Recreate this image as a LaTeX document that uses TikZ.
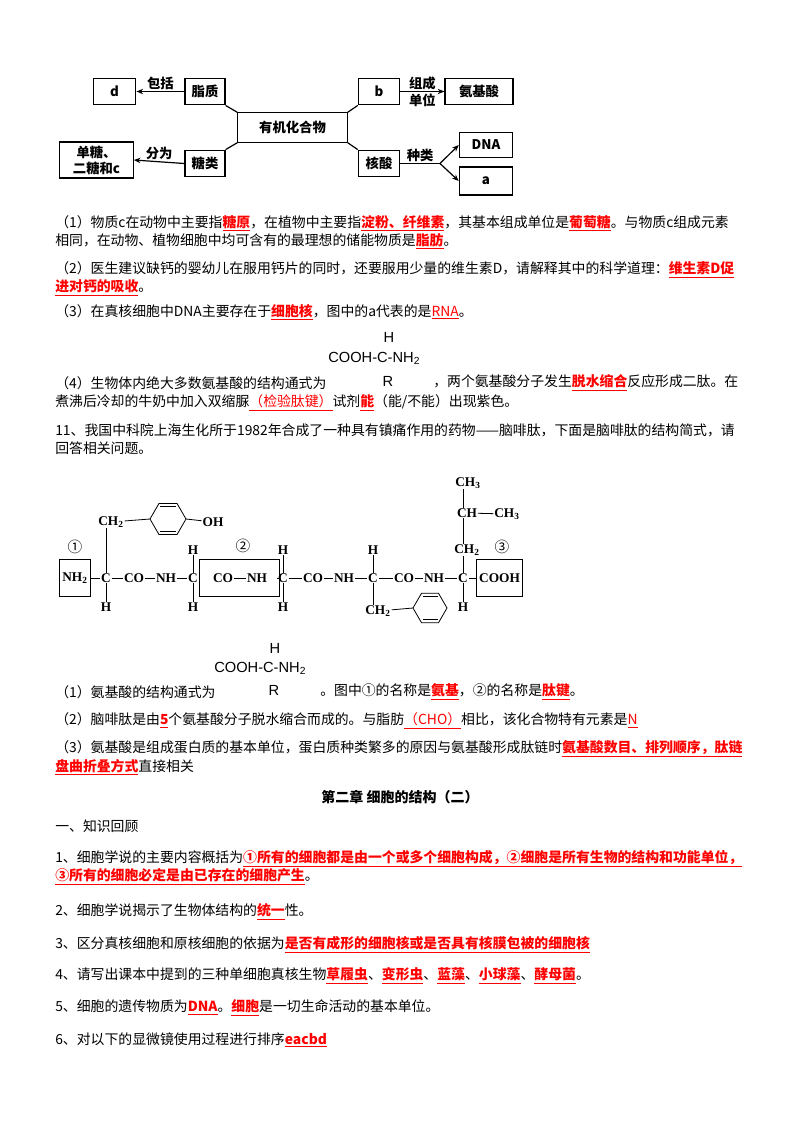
\documentclass[tikz,border=0pt]{standalone}
\usepackage{fontspec}
\setmainfont{Noto Sans CJK SC}
\newfontfamily\chemf{Liberation Serif}
\newfontfamily\formf{Liberation Sans}
\usetikzlibrary{arrows.meta}
\newcommand\ans[1]{{\color{red}\bfseries\underline{#1}}}
\newcommand\ansn[1]{{\color{red}\underline{#1}}}
\begin{document}
\begin{tikzpicture}[x=0.75pt,y=-0.75pt,
  tl/.style={anchor=west,inner sep=0pt,font=\fontsize{10.4pt}{13pt}\selectfont},
  bx/.style={draw,line width=0.9pt,inner sep=0pt,font=\fontsize{10pt}{12pt}\selectfont\bfseries,align=center},
  cn/.style={line width=0.9pt},
  ar/.style={line width=0.9pt,-{Stealth[length=5pt,width=4pt]}},
  lb/.style={inner sep=1pt,font=\fontsize{10pt}{12pt}\selectfont\bfseries},
  ch/.style={inner sep=0.5pt,font=\chemf\fontsize{10pt}{12pt}\selectfont\bfseries},
  cb/.style={draw,line width=0.7pt,minimum height=28pt,inner sep=2pt},
  bd/.style={line width=0.6pt},
  fm/.style={inner sep=0pt,font=\formf\fontsize{11pt}{13pt}\selectfont},
  circnum/.style={inner sep=0.5pt,font=\fontsize{11pt}{12pt}\selectfont},
]
\useasboundingbox (0,0) rectangle (800,1133);
\fill[white] (0,0) rectangle (800,1133);
% ---- top diagram
\node[bx,minimum width=32pt,minimum height=20pt] (d) at (114.5,91.5) {d};
\node[bx,minimum width=30pt,minimum height=20pt] (zz) at (205,91.5) {脂质};
\node[bx,minimum width=31pt,minimum height=20pt] (b) at (379,91.5) {b};
\node[bx,minimum width=51pt,minimum height=20pt] (aa) at (479,91.5) {氨基酸};
\node[bx,minimum width=82pt,minimum height=22pt] (org) at (292.5,127.5) {有机化合物};
\node[bx,minimum width=55pt,minimum height=27pt] (dt) at (96.5,160) {单糖、\\二糖和c};
\node[bx,minimum width=30pt,minimum height=20pt] (tl) at (205,163.5) {糖类};
\node[bx,minimum width=31pt,minimum height=20pt] (hs) at (379,163.5) {核酸};
\node[bx,minimum width=40pt,minimum height=19pt] (dna) at (486,145) {DNA};
\node[bx,minimum width=40pt,minimum height=21pt] (a) at (486,181) {a};
\draw[cn] (zz.south east) -- (org.north west);
\draw[cn] (tl.north east) -- (org.south west);
\draw[cn] (b.south west) -- (org.north east);
\draw[cn] (hs.north west) -- (org.south east);
\draw[ar] (zz.west) -- node[lb,above]{包括} (d.east);
\draw[ar] (tl.west) -- node[lb,above]{分为} (dt.east);
\draw[ar] (b.east) -- node[lb,above]{组成} node[lb,below]{单位} (aa.west);
\coordinate (br) at (440,163.5);
\draw[cn] (hs.east) -- node[lb,above]{种类} (br);
\draw[ar] (br) -- (dna.west);
\draw[ar] (br) -- (a.west);
% ---- text block 1
\node[tl] (t1) at (55,223) {（1）物质c在动物中主要指\ans{糖原}，在植物中主要指\ans{淀粉、纤维素}，其基本组成单位是\ans{葡萄糖}。与物质c组成元素};
\node[tl] (t1b) at (55,241) {相同，在动物、植物细胞中均可含有的最理想的储能物质是\ans{脂肪}。};
\node[tl] (t2) at (55,270) {（2）医生建议缺钙的婴幼儿在服用钙片的同时，还要服用少量的维生素D，请解释其中的科学道理：\ans{维生素D促}};
\node[tl] (t2b) at (55,288) {\ans{进对钙的吸收}。};
\node[tl] (t3) at (55,312) {（3）在真核细胞中DNA主要存在于\ans{细胞核}，图中的a代表的是\ansn{RNA}。};
\node[fm] (f1h) at (389,337) {H};
\node[fm,anchor=west] (f1) at (328,358) {COOH-C-NH\textsubscript{2}};
\node[fm] (f1r) at (388,381) {R};
\node[tl] (t4) at (55,383) {（4）生物体内绝大多数氨基酸的结构通式为};
\node[tl] (t4a) at (433,383) {，两个氨基酸分子发生\ans{脱水缩合}反应形成二肽。在};
\node[tl] (t4b) at (55,403) {煮沸后冷却的牛奶中加入双缩脲\ansn{（检验肽键）}试剂\ans{能}（能/不能）出现紫色。};
\node[tl] (t11) at (55,430) {11、我国中科院上海生化所于1982年合成了一种具有镇痛作用的药物——脑啡肽，下面是脑啡肽的结构简式，请};
\node[tl] (t11b) at (55,448) {回答相关问题。};
% ---- structure
\def\my{578}
\node[ch,cb] (n1) at (75,\my) {NH\textsubscript{2}};
\node[ch] (c1) at (106,\my) {C};
\node[ch] (o1) at (134,\my) {CO};
\node[ch] (h1) at (166,\my) {NH};
\node[ch] (c2) at (193,\my) {C};
\node[ch,cb,minimum width=60pt] (bx2) at (239,\my) {\phantom{CO}};
\node[ch] (o2) at (223,\my) {CO};
\node[ch] (h2) at (257,\my) {NH};
\node[ch] (c3) at (283,\my) {C};
\node[ch] (o3) at (313,\my) {CO};
\node[ch] (h3) at (344,\my) {NH};
\node[ch] (c4) at (373,\my) {C};
\node[ch] (o4) at (404,\my) {CO};
\node[ch] (h4) at (434,\my) {NH};
\node[ch] (c5) at (463,\my) {C};
\node[ch,cb,minimum width=34pt] (n3) at (499.5,\my) {COOH};
\node[circnum] (m1) at (75,547) {①};
\node[circnum] (m2) at (243,546) {②};
\node[circnum] (m3) at (502,547) {③};
\draw[bd] (n1) -- (c1); \draw[bd] (c1) -- (o1); \draw[bd] (o1) -- (h1); \draw[bd] (h1) -- (c2);
\draw[bd] (c2) -- (bx2.west); \draw[bd] (o2) -- (h2); \draw[bd] (bx2.east) -- (c3);
\draw[bd] (c3) -- (o3); \draw[bd] (o3) -- (h3); \draw[bd] (h3) -- (c4); \draw[bd] (c4) -- (o4);
\draw[bd] (o4) -- (h4); \draw[bd] (h4) -- (c5); \draw[bd] (c5) -- (n3);
% substituents
\node[ch] (s1) at (111,522) {CH\textsubscript{2}};
\draw[bd] (c1) -- (c1 |- s1.south);
\node[ch] (u1) at (106,607) {H}; \draw[bd] (c1) -- (u1);
\node[ch] (u2a) at (193,550) {H}; \draw[bd] (c2) -- (u2a);
\node[ch] (u2b) at (193,607) {H}; \draw[bd] (c2) -- (u2b);
\node[ch] (u3a) at (283,550) {H}; \draw[bd] (c3) -- (u3a);
\node[ch] (u3b) at (283,607) {H}; \draw[bd] (c3) -- (u3b);
\node[ch] (u4a) at (373,550) {H}; \draw[bd] (c4) -- (u4a);
\node[ch] (s4) at (378,611) {CH\textsubscript{2}}; \draw[bd] (c4) -- (c4 |- s4.north);
\node[ch] (s5a) at (467,550) {CH\textsubscript{2}}; \draw[bd] (c5) -- (c5 |- s5a.south);
\node[ch] (s5b) at (467,513) {CH}; \draw[bd] (s5a.north -| c5) -- (s5b.south -| c5);
\node[ch] (s5c) at (507,514) {CH\textsubscript{3}}; \draw[bd] (s5b) -- (s5c);
\node[ch] (s5d) at (468,483) {CH\textsubscript{3}}; \draw[bd] (s5b.north -| c5) -- (s5d.south -| c5);
\node[ch] (u5) at (463,607) {H}; \draw[bd] (c5) -- (u5);
% benzene 1
\coordinate (bz1) at (168,519);
\draw[bd] (bz1) ++(180:18) -- ++(-60:18) -- ++(0:18) -- ++(60:18) -- ++(120:18) -- ++(180:18) -- cycle;
\draw[bd] (bz1) ++(-8,-12.5) -- ++(16,0);
\draw[bd] (bz1) ++(-8,12.5) -- ++(16,0);
\coordinate (bz1l) at (150,519); \coordinate (bz1r) at (186,519);
\draw[bd] (s1) -- (bz1l);
\node[ch] (oh) at (213,522) {OH};
\draw[bd] (bz1r) -- (oh);
% benzene 2
\coordinate (bz2) at (430,608);
\draw[bd] (bz2) ++(180:17) -- ++(-60:17) -- ++(0:17) -- ++(60:17) -- ++(120:17) -- ++(180:17) -- cycle;
\draw[bd] (bz2) ++(-7.5,-11.5) -- ++(15,0);
\draw[bd] (bz2) ++(-7.5,11.5) -- ++(15,0);
\coordinate (bz2l) at (413,608);
\draw[bd] (s4) -- (bz2l);
% ---- text block 2
\node[fm] (f2h) at (275,648) {H};
\node[fm,anchor=west] (f2) at (214,668) {COOH-C-NH\textsubscript{2}};
\node[fm] (f2r) at (274,690) {R};
\node[tl] (q1) at (55,692) {（1）氨基酸的结构通式为};
\node[tl] (q1a) at (320,692) {。图中①的名称是\ans{氨基}，②的名称是\ans{肽键}。};
\node[tl] (q2) at (55,721) {（2）脑啡肽是由\ans{5}个氨基酸分子脱水缩合而成的。与脂肪\ansn{（CHO）}相比，该化合物特有元素是\ansn{N}};
\node[tl] (q3) at (55,749) {（3）氨基酸是组成蛋白质的基本单位，蛋白质种类繁多的原因与氨基酸形成肽链时\ans{氨基酸数目、排列顺序，肽链}};
\node[tl] (q3b) at (55,767) {\ans{盘曲折叠方式}直接相关};
\node[inner sep=0pt,font=\fontsize{10.5pt}{13pt}\selectfont\bfseries] (hd) at (400,797) {第二章\ 细胞的结构（二）};
\node[tl] (k0) at (55,826) {一、知识回顾};
\node[tl] (k1) at (55,859) {1、细胞学说的主要内容概括为\ans{①所有的细胞都是由一个或多个细胞构成，②细胞是所有生物的结构和功能单位，}};
\node[tl] (k1b) at (55,877) {\ans{③所有的细胞必定是由已存在的细胞产生}。};
\node[tl] (k2) at (55,912) {2、细胞学说揭示了生物体结构的\ans{统一}性。};
\node[tl] (k3) at (55,945) {3、区分真核细胞和原核细胞的依据为\ans{是否有成形的细胞核或是否具有核膜包被的细胞核}};
\node[tl] (k4) at (55,976) {4、请写出课本中提到的三种单细胞真核生物\ans{草履虫}、\ans{变形虫}、\ans{蓝藻}、\ans{小球藻}、\ans{酵母菌}。};
\node[tl] (k5) at (55,1008) {5、细胞的遗传物质为\ans{DNA}。\ans{细胞}是一切生命活动的基本单位。};
\node[tl] (k6) at (55,1040) {6、对以下的显微镜使用过程进行排序\ans{eacbd}};
\end{tikzpicture}
\end{document}
